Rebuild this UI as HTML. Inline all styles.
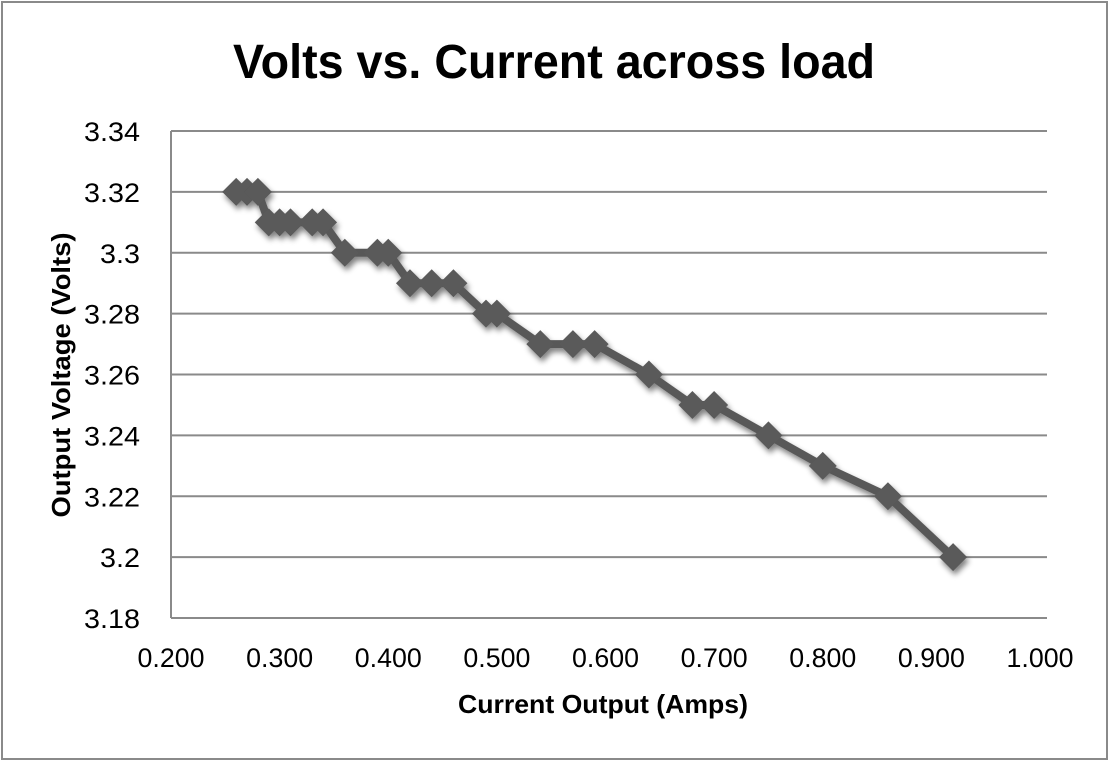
<!DOCTYPE html>
<html><head><meta charset="utf-8"><style>
body{margin:0;background:#fff;}
svg{display:block;font-family:"Liberation Sans",Arial,sans-serif;}
</style></head><body>
<svg id="chart" width="1109" height="763">
<defs><filter id="sh" x="-50%" y="-50%" width="200%" height="200%"><feGaussianBlur in="SourceAlpha" stdDeviation="3"/><feOffset dx="2" dy="4"/><feComponentTransfer><feFuncA type="linear" slope="0.5"/></feComponentTransfer><feMerge><feMergeNode/><feMergeNode in="SourceGraphic"/></feMerge></filter></defs>
<rect x="2" y="2" width="1105" height="757" fill="#fff" stroke="#8a8a8a" stroke-width="2"/>
<text x="554" y="78" text-anchor="middle" font-size="48" font-weight="bold" textLength="642" lengthAdjust="spacingAndGlyphs">Volts vs. Current across load</text>
<g id="grid"></g>
<g id="series" filter="url(#sh)"></g>
<text x="603" y="713" text-anchor="middle" font-size="26" font-weight="bold" textLength="290" lengthAdjust="spacingAndGlyphs">Current Output (Amps)</text>
<text transform="translate(70,375) rotate(-90)" text-anchor="middle" font-size="26" font-weight="bold" textLength="285" lengthAdjust="spacingAndGlyphs">Output Voltage (Volts)</text>
</svg>
<script>
const xTicks=[0.2,0.3,0.4,0.5,0.6,0.7,0.8,0.9,1.0];
const yTicks=[3.18,3.2,3.22,3.24,3.26,3.28,3.3,3.32,3.34];
const yTickLabels=["3.18","3.2","3.22","3.24","3.26","3.28","3.3","3.32","3.34"];
const currents=[0.26,0.27,0.28,0.29,0.30,0.31,0.33,0.34,0.36,0.39,0.40,0.42,0.44,0.46,0.49,0.50,0.54,0.57,0.59,0.64,0.68,0.70,0.75,0.80,0.86,0.92];
const volts=[3.32,3.32,3.32,3.31,3.31,3.31,3.31,3.31,3.30,3.30,3.30,3.29,3.29,3.29,3.28,3.28,3.27,3.27,3.27,3.26,3.25,3.25,3.24,3.23,3.22,3.20];
const X0=171,X1=1040,Y0=618,Y1=131;
const xs=v=>X0+(v-0.2)/0.8*(X1-X0);
const ys=v=>Y0-(v-3.18)/0.16*(Y0-Y1);
const NS="http://www.w3.org/2000/svg";
const grid=document.getElementById('grid'),ser=document.getElementById('series');
function mk(tag,attrs,parent){const e=document.createElementNS(NS,tag);for(const k in attrs)e.setAttribute(k,attrs[k]);parent.appendChild(e);return e;}
yTicks.forEach((t,i)=>{
  const l=mk('line',{x1:X0,x2:1047,y1:ys(t),y2:ys(t),stroke:'#8a8a8a','stroke-width':2},grid);
  
  
  const lab=yTickLabels[i];
  const tx=mk('text',{x:140,y:ys(t)+10,'text-anchor':'end','font-size':27,textLength:lab.length>3?56:40,lengthAdjust:'spacingAndGlyphs'},grid);
  tx.textContent=lab;
  
  
});
const ax=mk('line',{x1:X0,x2:X0,y1:Y1,y2:Y0,stroke:'#8a8a8a','stroke-width':2},grid);


xTicks.forEach(t=>{
  const tx=mk('text',{x:xs(t),y:667,'text-anchor':'middle','font-size':27,textLength:67,lengthAdjust:'spacingAndGlyphs'},grid);
  tx.textContent=t.toFixed(3);
  
  
});
const pts=currents.map((c,i)=>xs(c)+','+ys(volts[i])).join(' ');
const pl=mk('polyline',{points:pts,fill:'none',stroke:'#595959','stroke-width':8,'stroke-linejoin':'round'},ser);


currents.forEach((c,i)=>{
  const x=xs(c),y=ys(volts[i]),r=14;
  const d=mk('polygon',{points:`${x},${y-r} ${x+r},${y} ${x},${y+r} ${x-r},${y}`,fill:'#5a5a5a'},ser);
  
  
});
</script>
</body></html>
